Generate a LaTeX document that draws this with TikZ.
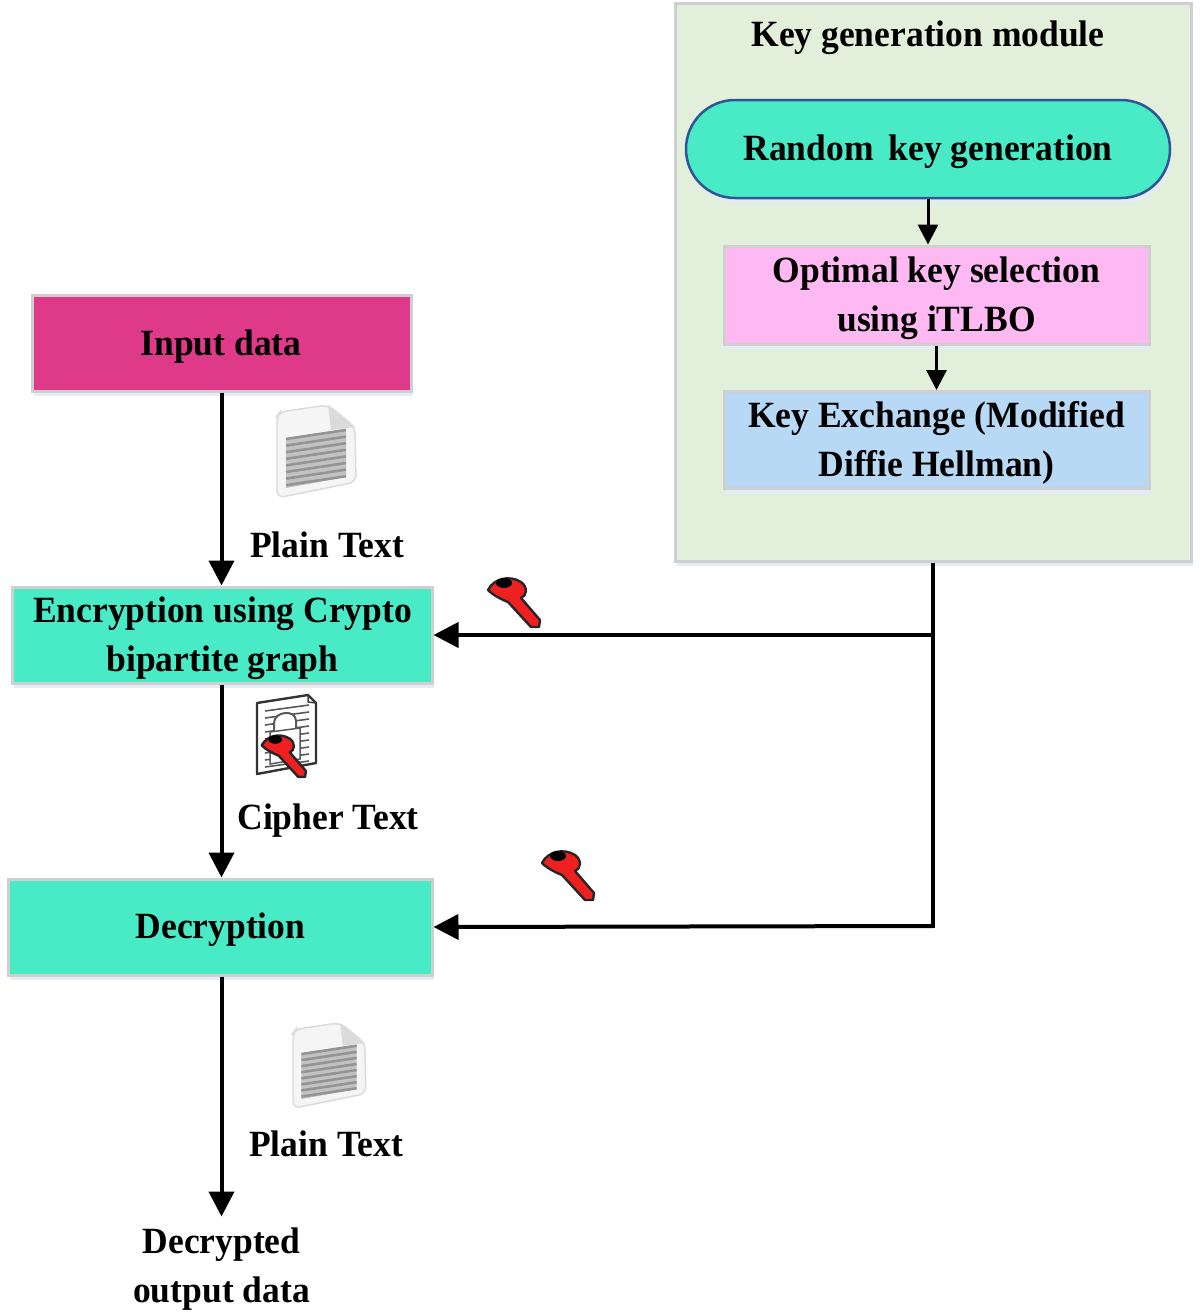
\documentclass[tikz,border=0pt]{standalone}
\usepackage{fontspec}
\setmainfont[FakeStretch=0.96]{Liberation Serif}
\usetikzlibrary{arrows.meta,shadows,shapes.misc,calc}
\definecolor{modgreen}{HTML}{E2EFDA}
\definecolor{teal1}{HTML}{48EBC6}
\definecolor{pink1}{HTML}{FFB9F2}
\definecolor{blue1}{HTML}{B8D9F5}
\definecolor{mag1}{HTML}{DF3A8A}
\definecolor{edge1}{HTML}{CFCFCF}
\definecolor{shade1}{HTML}{E4ECF6}
\definecolor{keyred}{HTML}{EE2020}
\definecolor{randedge}{HTML}{2F5597}
\tikzset{
  x=1pt,y=-1pt,
  lab/.style={font=\fontsize{37}{49}\selectfont\bfseries,align=center,text=black,inner sep=0pt},
  boxn/.style={rectangle,draw=edge1,line width=3pt,minimum width=#1,inner sep=0pt,
     drop shadow={shadow xshift=2pt,shadow yshift=-5pt,fill=shade1,opacity=1}},
  flow/.style={line width=4pt,-{Triangle[length=25pt,width=25pt]},black},
  flowsmall/.style={line width=3pt,-{Triangle[length=20pt,width=20pt]},black},
  keypic/.pic={
    \path[draw=black!85,line width=2.4pt,fill=keyred,line join=round]
      (-18,-3) .. controls (-12,-15) and (4,-18) .. (15,-11)
      .. controls (22,-6) and (21,3) .. (15,5)
      -- (34,27) -- (33,34) -- (25,34) -- (2,9)
      .. controls (-3,7) and (-12,3) .. (-18,-3) -- cycle;
    \fill[black] (-2,-10) ellipse (8 and 5);
  },
  docpic/.pic={
    \path[fill=black!4,draw=black!14,line width=1.5pt,rounded corners=7pt]
      (-39,-36) -- (-36,-40) -- (12,-47) -- (39,-25) -- (40,30) -- (-39,46) -- cycle;
    \path[fill=black!14] (12,-47) -- (39,-25) -- (15,-22) -- cycle;
    \fill[black!24] (-30,-14) -- (30,-23) -- (30,25) -- (-8,32) -- (-30,36) -- cycle;
    \foreach \i in {0,...,7}{
      \draw[black!42,line width=2.6pt] (-30,{-13+\i*6.6}) -- (30,{-22+\i*6.6});
    }
  },
  lockpic/.pic={
    \path[fill=white,draw=black!80,line width=2.4pt,line join=round]
      (-29,-32) -- (22,-40) -- (30,-32) -- (30,28) -- (-29,39) -- cycle;
    \draw[black!75,line width=1.5pt] (22,-40) -- (22,-33) -- (30,-32);
    \foreach \i in {0,...,8}{
      \draw[black!65,line width=1.6pt] (-21,{-24+\i*7}) -- (23,{-30+\i*7});
    }
    \path[fill=white,draw=black!65,line width=2pt] (-12,-4) -- (-12,-12)
      .. controls (-12,-24) and (10,-26) .. (10,-14) -- (10,-5);
    \path[fill=white,draw=black!65,line width=1.5pt] (-16,-3) -- (14,-7) -- (14,24) -- (-16,29) -- cycle;
  }
}
\begin{document}
\begin{tikzpicture}
\useasboundingbox (0,0) rectangle (1200,1312);
\node[boxn=516pt,minimum height=558pt,fill=modgreen] (module) at (933,282) {};
\node[lab] (modlabel) at (928,38) {Key generation module};
\node[rounded rectangle,draw=randedge,line width=2.5pt,fill=teal1,minimum width=484pt,minimum height=98pt,inner sep=0pt,
   drop shadow={shadow xshift=2pt,shadow yshift=-5pt,fill=shade1,opacity=1}] (rand) at (928,149) {};
\node[lab] (randlabel) at (928,152) {Random\, key generation};
\node[boxn=425pt,minimum height=98pt,fill=pink1] (opt) at (936.5,295) {};
\node[lab] (optlabel) at (936.5,298) {Optimal key selection\\using iTLBO};
\node[boxn=425pt,minimum height=97pt,fill=blue1] (kex) at (936.5,440) {};
\node[lab] (kexlabel) at (936.5,443) {Key Exchange (Modified\\Diffie Hellman)};
\node[boxn=379pt,minimum height=96pt,fill=mag1] (input) at (221.5,343) {};
\node[lab] (inputlabel) at (221,347) {Input data};
\node[boxn=420pt,minimum height=96pt,fill=teal1] (enc) at (222,635) {};
\node[lab] (enclabel) at (222.5,638) {Encryption using Crypto\\bipartite graph};
\node[boxn=424pt,minimum height=96pt,fill=teal1] (dec) at (220,927) {};
\node[lab] (declabel) at (220.5,930) {Decryption};
\node[lab] (out) at (221.5,1269) {Decrypted\\output data};
\node[lab] (pt1) at (327,544.5) {Plain Text};
\node[lab] (ct) at (328,821) {Cipher Text};
\node[lab] (pt2) at (326,1143.5) {Plain Text};
\pic at (316,452) {docpic};
\pic[scale=.92] at (329,1066) {docpic};
\pic at (286,735) {lockpic};
\pic[scale=.85] at (277,748) {keypic};
\pic at (506,593) {keypic};
\pic at (560,866) {keypic};
\coordinate (tee) at (933,635);
\coordinate (corner) at (933,926);
\draw[flowsmall] (rand.south) -- (rand.south |- opt.north);
\draw[flowsmall] (opt.south) -- (opt.south |- kex.north);
\draw[flow] (input.south) -- (input.south |- enc.north);
\draw[flow] (input.south |- enc.south) -- (input.south |- dec.north);
\draw[flow,shorten >=11pt] (input.south |- dec.south) -- (input.south |- out.north);
\draw[line width=4pt,line join=miter] (module.south -| tee) -- (corner) -- ++(-2,0);
\draw[flow] (tee) -- (enc.east);
\draw[flow] (corner) -- (dec.east);
\end{tikzpicture}
\end{document}
